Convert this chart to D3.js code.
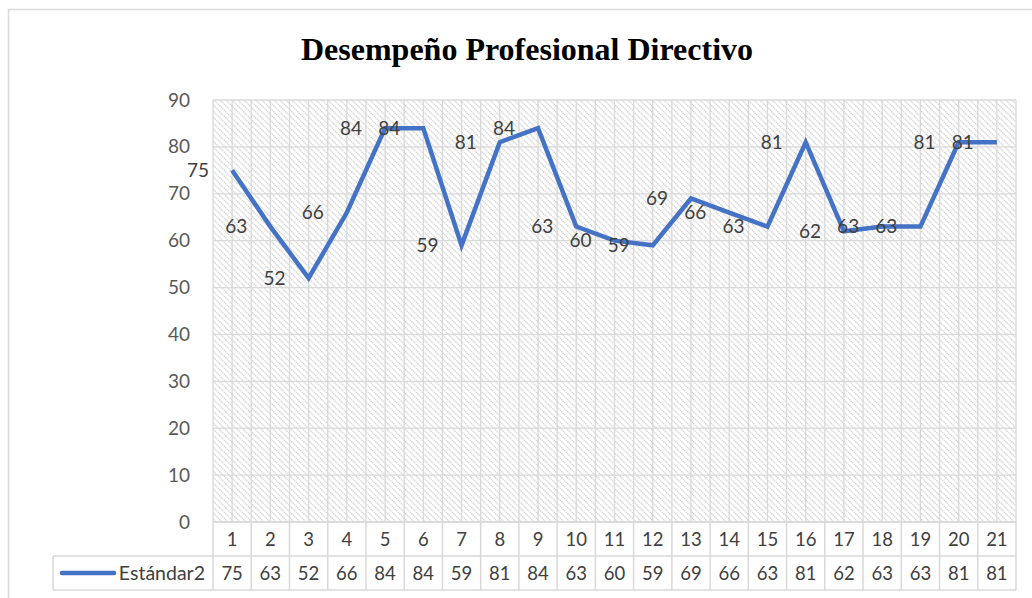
<!DOCTYPE html>
<html><head><meta charset="utf-8">
<script src="https://cdn.jsdelivr.net/npm/d3@7"></script>
<style>body{margin:0;background:#fff;} svg{display:block;}</style>
</head><body>
<script>
const titleText = "Desempeño Profesional Directivo";
const seriesName = "Estándar2";
const categories = ["1","2","3","4","5","6","7","8","9","10","11","12","13","14","15","16","17","18","19","20","21"];
const values = [75,63,52,66,84,84,59,81,84,63,60,59,69,66,63,81,62,63,63,81,81];
const yTicks = [0,10,20,30,40,50,60,70,80,90];

const W = 1032, H = 598;
const pLeft = 213, pRight = 1016, pTop = 100, pBottom = 522;
const rowH = 34, legendLeft = 53;
const blue = "#4472C4", grid = "#d9d9d9", txt = "#404040";
const font = "Lato, 'Open Sans', sans-serif";

const svg = d3.select("body").append("svg").attr("width", W).attr("height", H);

// outer border
svg.append("rect").attr("x", 8.5).attr("y", 9.5).attr("width", W).attr("height", H)
  .attr("fill", "#fff").attr("stroke", grid).attr("stroke-width", 1.5);

// hatch pattern
const defs = svg.append("defs");
const pat = defs.append("pattern").attr("id", "hatch").attr("patternUnits", "userSpaceOnUse")
  .attr("width", 6).attr("height", 6);
pat.append("rect").attr("width", 6).attr("height", 6).attr("fill", "#fff");
pat.append("path").attr("d", "M-1,-1 L7,7 M-1,5 L1,7 M5,-1 L7,1")
  .attr("stroke", "#d0d0d0").attr("stroke-width", 1.2).attr("stroke-dasharray", "1.4,0.6");

const x = d3.scaleBand().domain(categories).range([pLeft, pRight]);
const y = d3.scaleLinear().domain([0, 90]).range([pBottom, pTop]);
const bw = x.bandwidth();

// plot background
svg.append("rect").attr("x", pLeft).attr("y", pTop).attr("width", pRight - pLeft).attr("height", pBottom - pTop)
  .attr("fill", "url(#hatch)");

// gridlines
const g = svg.append("g");
g.selectAll(".hg").data(yTicks).join("line")
  .attr("x1", pLeft).attr("x2", pRight).attr("y1", d => y(d)).attr("y2", d => y(d))
  .attr("stroke", grid).attr("stroke-width", 1.3);
const vlines = [];
categories.forEach(c => { vlines.push(x(c)); vlines.push(x(c) + bw / 2); });
vlines.push(pRight);
g.selectAll(".vg").data(vlines).join("line")
  .attr("x1", d => d).attr("x2", d => d).attr("y1", pTop).attr("y2", pBottom)
  .attr("stroke", grid).attr("stroke-width", 1.3);

// y axis labels
const yAxis = d3.axisLeft(y).tickValues(yTicks).tickSize(0).tickPadding(0);
const ya = svg.append("g").attr("transform", `translate(190,0)`).call(yAxis);
ya.select(".domain").remove();
ya.selectAll("text").attr("font-family", font).attr("font-size", 19).attr("fill", "#595959");

// title
svg.append("text").attr("x", 527).attr("y", 60).attr("text-anchor", "middle")
  .attr("font-family", "'Liberation Serif', 'Times New Roman', serif").attr("font-weight", "bold")
  .attr("font-size", 32).attr("fill", "#000").text(titleText);

// line
const line = d3.line().x((d, i) => x(categories[i]) + bw / 2).y(d => y(d));
svg.append("path").datum(values).attr("d", line).attr("fill", "none")
  .attr("stroke", blue).attr("stroke-width", 4.5).attr("stroke-linejoin", "miter");

// data labels (left of point)
svg.append("g").selectAll("text").data(values).join("text")
  .attr("x", (d, i) => x(categories[i]) + bw / 2 - 23)
  .attr("y", d => y(d)).attr("dy", "0.35em").attr("text-anchor", "end")
  .attr("font-family", font).attr("font-size", 19).attr("fill", txt).text(d => d);

// data table
const t = svg.append("g");
const tb = [pBottom, pBottom + rowH, pBottom + 2 * rowH];
t.append("line").attr("x1", pLeft).attr("x2", pRight).attr("y1", tb[0]).attr("y2", tb[0]).attr("stroke", grid).attr("stroke-width", 1.5);
t.append("line").attr("x1", legendLeft).attr("x2", pRight).attr("y1", tb[1]).attr("y2", tb[1]).attr("stroke", grid).attr("stroke-width", 1.5);
t.append("line").attr("x1", legendLeft).attr("x2", pRight).attr("y1", tb[2]).attr("y2", tb[2]).attr("stroke", grid).attr("stroke-width", 1.5);
t.append("line").attr("x1", legendLeft).attr("x2", legendLeft).attr("y1", tb[1]).attr("y2", tb[2]).attr("stroke", grid).attr("stroke-width", 1.5);
const bounds = categories.map(c => x(c)).concat([pRight]);
t.selectAll(".tv").data(bounds).join("line")
  .attr("x1", d => d).attr("x2", d => d).attr("y1", tb[0]).attr("y2", tb[2])
  .attr("stroke", grid).attr("stroke-width", 1.5);
t.selectAll(".cat").data(categories).join("text")
  .attr("x", d => x(d) + bw / 2).attr("y", tb[0] + rowH / 2).attr("dy", "0.36em")
  .attr("text-anchor", "middle").attr("font-family", font).attr("font-size", 18.5).attr("fill", txt).text(d => d);
t.selectAll(".val").data(values).join("text")
  .attr("x", (d, i) => x(categories[i]) + bw / 2).attr("y", tb[1] + rowH / 2).attr("dy", "0.36em")
  .attr("text-anchor", "middle").attr("font-family", font).attr("font-size", 18.5).attr("fill", txt).text(d => d);
// legend key
t.append("line").attr("x1", 62).attr("x2", 114).attr("y1", tb[1] + rowH / 2).attr("y2", tb[1] + rowH / 2)
  .attr("stroke", blue).attr("stroke-width", 4.5).attr("stroke-linecap", "round");
t.append("text").attr("x", 205).attr("y", tb[1] + rowH / 2).attr("dy", "0.36em").attr("text-anchor", "end")
  .attr("font-family", font).attr("font-size", 19.5).attr("fill", txt).text(seriesName);
</script>
</body></html>
